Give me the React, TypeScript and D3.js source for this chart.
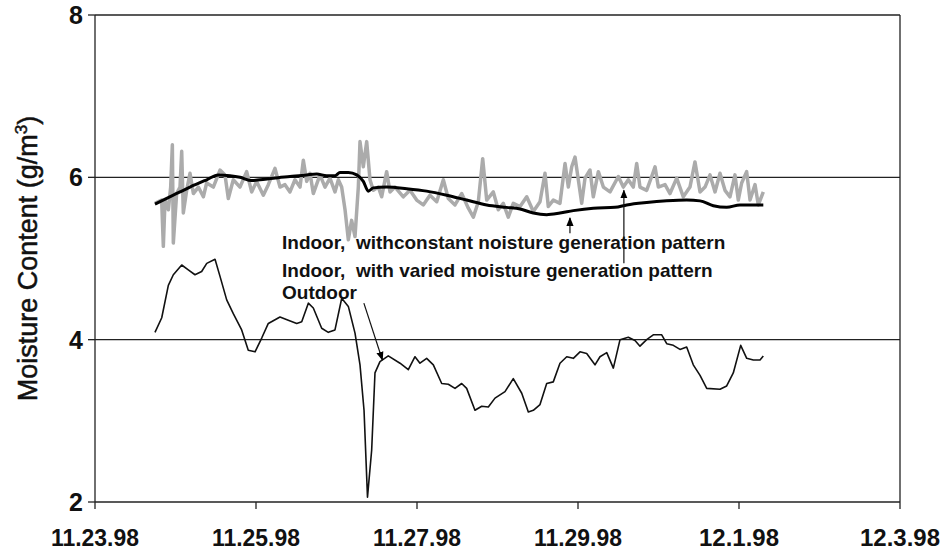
import React from 'react';
import * as d3 from 'd3';

// Days after 11.23.98
const xTickDays = [0, 2, 4, 6, 8, 10];
const xTickLabels = ['11.23.98', '11.25.98', '11.27.98', '11.29.98', '12.1.98', '12.3.98'];
const yTicks = [2, 4, 6, 8];

const outdoorDay = [0.745,0.829,0.911,0.973,1.077,1.159,1.242,1.325,1.388,1.491,1.553,1.636,1.718,1.822,1.904,1.988,2.071,2.153,2.298,2.401,2.506,2.568,2.650,2.712,2.816,2.898,2.981,3.065,3.147,3.230,3.292,3.342,3.385,3.437,3.478,3.540,3.643,3.789,3.892,3.975,4.037,4.120,4.203,4.307,4.389,4.472,4.555,4.617,4.720,4.804,4.886,4.969,5.093,5.196,5.301,5.383,5.445,5.528,5.611,5.693,5.776,5.860,5.942,6.025,6.108,6.211,6.273,6.357,6.439,6.522,6.625,6.708,6.770,6.853,6.935,7.040,7.102,7.184,7.267,7.350,7.432,7.516,7.599,7.764,7.847,7.929,8.021,8.096,8.178,8.261,8.302];
const outdoorVal = [4.09,4.27,4.67,4.80,4.92,4.86,4.80,4.84,4.94,4.99,4.78,4.49,4.32,4.12,3.87,3.85,4.02,4.20,4.28,4.24,4.20,4.22,4.45,4.39,4.14,4.09,4.12,4.51,4.41,4.08,3.69,3.13,2.06,2.64,3.59,3.73,3.80,3.71,3.63,3.79,3.71,3.77,3.69,3.46,3.45,3.40,3.46,3.40,3.13,3.18,3.17,3.28,3.36,3.52,3.34,3.11,3.13,3.20,3.46,3.48,3.71,3.79,3.77,3.85,3.83,3.69,3.79,3.84,3.65,4.00,4.03,3.99,3.92,4.00,4.06,4.06,3.95,3.93,3.88,3.91,3.69,3.56,3.40,3.39,3.43,3.59,3.93,3.77,3.75,3.75,3.80];

const constantDay = [0.745,0.973,1.180,1.388,1.532,1.677,1.801,1.947,2.050,2.215,2.422,2.630,2.754,2.878,2.981,3.043,3.147,3.251,3.333,3.395,3.457,3.624,3.872,4.120,4.369,4.617,4.866,5.114,5.280,5.445,5.611,5.776,5.942,6.190,6.460,6.605,6.853,7.102,7.350,7.516,7.681,7.847,8.012,8.302];
const constantVal = [5.67,5.78,5.88,5.97,6.03,6.02,6.00,5.96,5.97,5.99,6.01,6.03,6.04,6.02,6.02,6.06,6.06,6.03,5.95,5.83,5.87,5.88,5.86,5.83,5.78,5.72,5.66,5.63,5.61,5.56,5.54,5.56,5.59,5.62,5.63,5.66,5.69,5.71,5.72,5.71,5.65,5.63,5.66,5.66];

const variedDay = [0.745,0.828,0.849,0.870,0.911,0.940,0.961,0.973,1.014,1.056,1.077,1.097,1.139,1.180,1.222,1.284,1.346,1.387,1.470,1.553,1.615,1.656,1.718,1.801,1.884,1.946,2.008,2.091,2.153,2.236,2.298,2.360,2.422,2.484,2.547,2.588,2.630,2.671,2.712,2.795,2.857,2.919,2.981,3.023,3.064,3.106,3.147,3.188,3.230,3.271,3.292,3.333,3.375,3.416,3.457,3.520,3.561,3.623,3.665,3.727,3.830,3.913,3.996,4.078,4.161,4.245,4.327,4.389,4.472,4.555,4.638,4.700,4.762,4.816,4.866,4.948,5.010,5.072,5.134,5.196,5.280,5.363,5.445,5.528,5.590,5.631,5.693,5.776,5.839,5.880,5.922,5.963,6.004,6.046,6.087,6.149,6.190,6.253,6.315,6.398,6.501,6.563,6.625,6.687,6.729,6.770,6.853,6.915,6.957,6.998,7.081,7.143,7.226,7.308,7.391,7.453,7.516,7.578,7.640,7.702,7.764,7.826,7.888,7.950,7.991,8.033,8.095,8.137,8.199,8.240,8.302];
const variedVal = [5.68,5.72,5.15,5.72,5.60,5.88,6.40,5.19,5.80,5.88,6.32,5.56,5.84,6.05,5.80,5.88,5.76,5.93,5.88,6.09,6.03,5.74,5.97,5.88,6.07,5.82,5.95,5.78,5.91,6.11,5.88,5.91,5.82,5.97,5.88,6.21,5.95,6.05,5.80,6.03,5.88,5.99,5.82,5.97,5.88,5.60,5.23,5.47,5.27,5.88,6.44,6.13,6.44,5.97,5.84,5.88,5.76,6.07,5.82,5.88,5.76,5.84,5.72,5.66,5.78,5.70,5.97,5.74,5.66,5.80,5.62,5.51,5.70,6.23,5.72,5.82,5.60,5.68,5.51,5.68,5.64,5.76,5.58,5.70,6.05,5.64,5.72,5.68,6.17,5.88,6.13,6.25,5.97,5.68,5.99,6.09,5.76,6.07,5.88,5.82,6.01,5.88,5.97,5.88,6.17,5.88,5.84,6.01,6.13,5.88,5.91,5.80,5.99,5.76,5.88,6.19,5.82,5.88,6.03,5.82,6.05,5.84,5.76,6.03,5.72,5.93,6.07,5.72,5.91,5.66,5.82];

// Annotation labels and the points their arrows run between (day, value)
const labelTexts = [
  'Indoor,  withconstant noisture generation pattern',
  'Indoor,  with varied moisture generation pattern',
  'Outdoor',
];
const arrowFromDay = [5.90, 6.57, 3.34];
const arrowFromVal = [5.31, 4.94, 4.45];
const arrowToDay = [5.90, 6.57, 3.57];
const arrowToVal = [5.50, 5.84, 3.75];

const FONT = "'Liberation Sans', Arial, sans-serif";

export default function App() {
  const x = d3.scaleLinear().domain([0, 10]).range([95, 900]);
  const y = d3.scaleLinear().domain([2, 8]).range([502, 15]);
  const line = d3.line<[number, number]>().x(d => x(d[0])).y(d => y(d[1]));
  const smooth = d3.line<[number, number]>().x(d => x(d[0])).y(d => y(d[1])).curve(d3.curveMonotoneX);

  const outdoor = d3.zip(outdoorDay, outdoorVal) as [number, number][];
  const constant = d3.zip(constantDay, constantVal) as [number, number][];
  const varied = d3.zip(variedDay, variedVal) as [number, number][];

  const [x0, x1] = x.range();
  const [yb, yt] = y.range();

  const labelY = [249, 277, 299];

  return (
    <svg width={947} height={552} style={{ position: 'absolute', left: 0, top: 0, background: '#fff' }}>
      <defs>
        <marker id="ah" viewBox="0 0 10 10" refX="9" refY="5" markerWidth="9" markerHeight="9" markerUnits="userSpaceOnUse" orient="auto">
          <path d="M0,1 L10,5 L0,9 Z" fill="#000" />
        </marker>
      </defs>
      {/* gridlines */}
      {yTicks.filter(t => t !== 2).map(t => (
        <line key={t} x1={x0} x2={x1} y1={y(t)} y2={y(t)} stroke="#222" strokeWidth={1.3} />
      ))}
      {/* right border */}
      <line x1={x1} x2={x1} y1={yt} y2={yb} stroke="#222" strokeWidth={1.3} />
      {/* series */}
      <path d={line(varied) || ''} fill="none" stroke="#ababab" strokeWidth={3.5} strokeLinejoin="round" />
      <path d={smooth(constant) || ''} fill="none" stroke="#000" strokeWidth={3} />
      <path d={line(outdoor) || ''} fill="none" stroke="#111" strokeWidth={1.6} strokeLinejoin="round" />
      {/* axes */}
      <line x1={x0} x2={x0} y1={yt} y2={yb} stroke="#222" strokeWidth={1.3} />
      <line x1={x0} x2={x1} y1={yb} y2={yb} stroke="#222" strokeWidth={1.3} />
      {yTicks.map(t => (
        <g key={t}>
          <line x1={x0 - 7} x2={x0} y1={y(t)} y2={y(t)} stroke="#222" strokeWidth={1.3} />
          <text x={x0 - 12} y={y(t)} dy="0.36em" textAnchor="end" fontFamily={FONT} fontSize={25} fontWeight="bold" fill="#111">{t}</text>
        </g>
      ))}
      {xTickDays.map((d, i) => (
        <g key={d}>
          <line x1={x(d)} x2={x(d)} y1={yb} y2={yb + 7} stroke="#222" strokeWidth={1.3} />
          <text x={x(d)} y={546} textAnchor="middle" fontFamily={FONT} fontSize={24} fontWeight="bold" fill="#111" textLength={xTickLabels[i].length > 7 ? 88 : 80} lengthAdjust="spacingAndGlyphs">{xTickLabels[i]}</text>
        </g>
      ))}
      <text transform={`translate(37,${(yt + yb) / 2}) rotate(-90)`} textAnchor="middle" fontFamily={FONT} fontSize={27} fill="#111" stroke="#111" strokeWidth={0.5}>
        Moisture Content (g/m<tspan dy="-10" fontSize={17}>3</tspan><tspan dy="10">)</tspan>
      </text>
      {/* annotations */}
      {labelTexts.map((t, i) => (
        <text key={i} x={282} y={labelY[i]} fontFamily={FONT} fontSize={19} fontWeight="bold" fill="#111" style={{ whiteSpace: 'pre' }}>{t}</text>
      ))}
      {arrowFromDay.map((d, i) => (
        <line key={i} x1={x(d)} y1={y(arrowFromVal[i])} x2={x(arrowToDay[i])} y2={y(arrowToVal[i])} stroke="#111" strokeWidth={1.2} markerEnd="url(#ah)" />
      ))}
    </svg>
  );
}
